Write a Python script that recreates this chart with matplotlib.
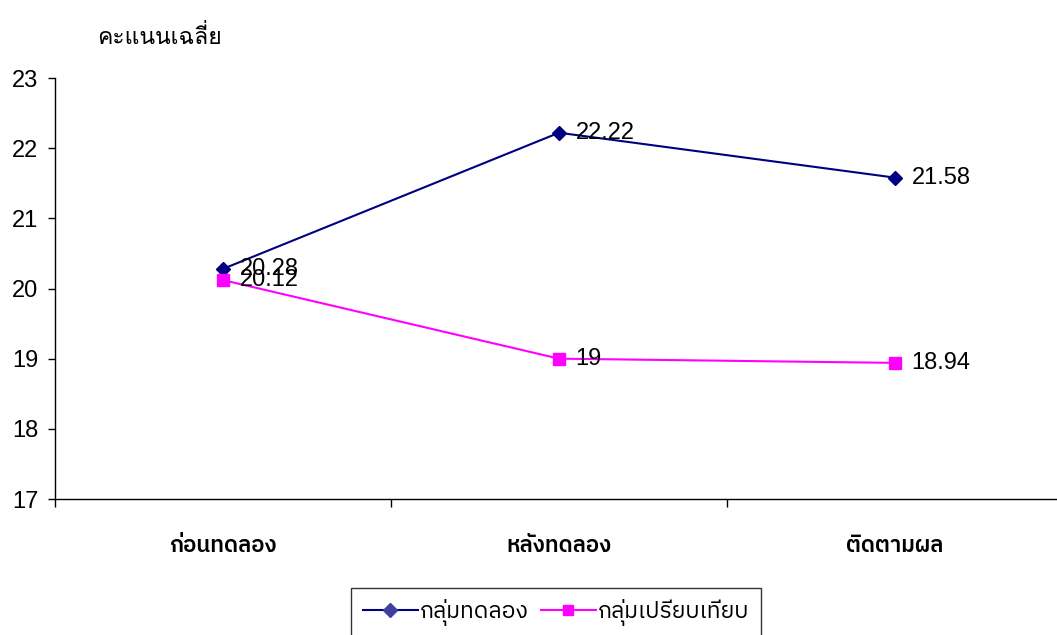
import glob
import matplotlib
matplotlib.use("Agg")
import matplotlib.pyplot as plt
from matplotlib import font_manager as fm
from matplotlib.lines import Line2D

# data
categories = ["ก่อนทดลอง", "หลังทดลอง", "ติดตามผล"]
experimental = [20.28, 22.22, 21.58]
comparison = [20.12, 19.00, 18.94]
labels_exp = ["20.28", "22.22", "21.58"]
labels_cmp = ["20.12", "19", "18.94"]
series_names = ["กลุ่มทดลอง", "กลุ่มเปรียบเทียบ"]
y_ticks = [17, 18, 19, 20, 21, 22, 23]


def thai_font(patterns, size):
    # first installed font file that matches one of the patterns
    for p in patterns:
        hits = sorted(glob.glob("/usr/share/fonts/**/" + p, recursive=True))
        if hits:
            return fm.FontProperties(fname=hits[0], size=size)
    return fm.FontProperties(family="DejaVu Sans", size=size)


num_font = ["Liberation Sans", "DejaVu Sans"]
cat_prop = thai_font(["IBMPlexSansThai-SemiBold.ttf", "IBMPlexSansThai-Medium.ttf",
                      "Loma-Bold.*"], 16)
leg_prop = thai_font(["IBMPlexSansThai-Regular.ttf", "Loma.*"], 16.5)
title_prop = thai_font(["Norasi.*", "Kinnari.*", "Loma.*",
                        "Taviraj-Regular.ttf"], 16.5)

fig = plt.figure(figsize=(10.57, 6.35), dpi=100)
ax = fig.add_axes([55 / 1057, 136 / 635, 1008 / 1057, 421 / 635])

x = list(range(len(categories)))
ax.plot(x, experimental, color="#000080", lw=1.5, marker="D", ms=7,
        mfc="#000080", mec="#000080", clip_on=False)
ax.plot(x, comparison, color="#FF00FF", lw=1.5, marker="s", ms=8,
        mfc="#FF00FF", mec="#FF00FF", clip_on=False)

for xi, v, s in zip(x, experimental, labels_exp):
    ax.annotate(s, (xi, v), xytext=(12, 0), textcoords="offset points",
                va="center", ha="left", fontsize=17, family=num_font)
for xi, v, s in zip(x, comparison, labels_cmp):
    ax.annotate(s, (xi, v), xytext=(12, 0), textcoords="offset points",
                va="center", ha="left", fontsize=17, family=num_font)

ax.set_xlim(-0.5, 2.5)
ax.set_ylim(17, 23)
ax.set_yticks(y_ticks)
ax.set_yticklabels([str(t) for t in y_ticks], family=num_font, fontsize=17)
ax.set_xticks(x)
ax.set_xticklabels(categories, fontproperties=cat_prop)
ax.set_xticks([-0.5, 0.5, 1.5], minor=True)
ax.tick_params(axis="x", which="major", length=0, pad=26)
ax.tick_params(axis="x", which="minor", length=6, width=1, direction="out")
ax.tick_params(axis="y", length=5, width=1, pad=7)

for side in ["top", "right"]:
    ax.spines[side].set_visible(False)
for side in ["left", "bottom"]:
    ax.spines[side].set_linewidth(1)

fig.text(97 / 1057, 1 - 37 / 635, "คะแนนเฉลี่ย", fontproperties=title_prop,
         va="center", ha="left")

handles = [
    Line2D([], [], color="#000080", lw=1.5, marker="D", ms=7,
           mfc="#3F3F9F", mec="#3F3F9F"),
    Line2D([], [], color="#FF00FF", lw=1.5, marker="s", ms=7,
           mfc="#FF00FF", mec="#FF00FF"),
]
leg = fig.legend(handles, series_names, loc="upper center",
                 bbox_to_anchor=(556 / 1057, 1 - 588 / 635), ncol=2,
                 frameon=True, fancybox=False, edgecolor="black",
                 prop=leg_prop,
                 handlelength=2.4, handletextpad=0.1, columnspacing=0.5,
                 borderpad=0.5, borderaxespad=0)
leg.get_frame().set_linewidth(1)

fig.savefig("out.png", dpi=100)
